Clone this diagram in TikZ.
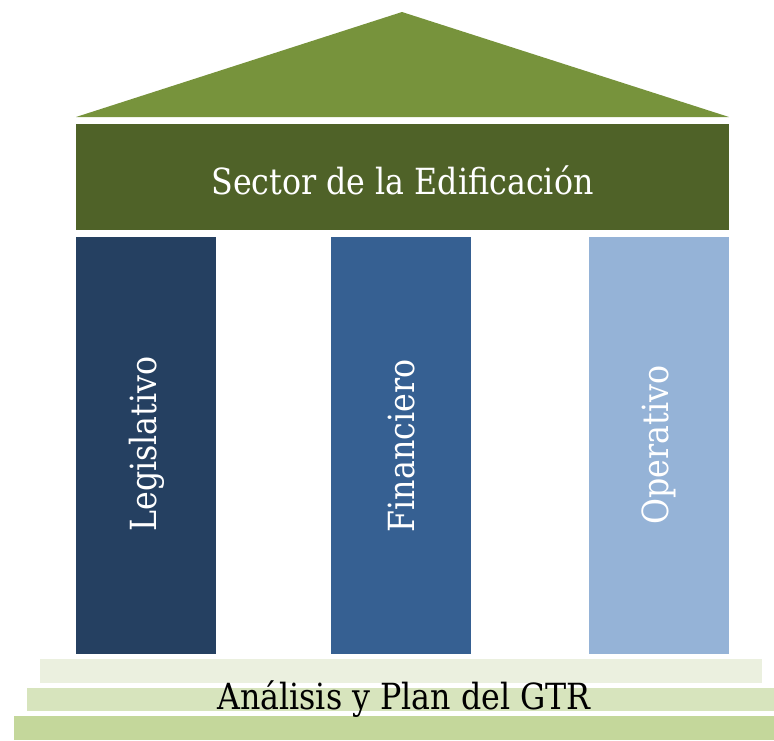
\documentclass[tikz,border=0pt]{standalone}
\usepackage{fontspec}
\setmainfont{DejaVu Serif}[FakeStretch=0.88]
\definecolor{roofc}{HTML}{77933C}
\definecolor{beamc}{HTML}{4F6228}
\definecolor{colA}{HTML}{254061}
\definecolor{colB}{HTML}{366092}
\definecolor{colC}{HTML}{95B3D7}
\definecolor{stepA}{HTML}{EBF0DF}
\definecolor{stepB}{HTML}{D7E4BD}
\definecolor{stepC}{HTML}{C4D79B}
\tikzset{
  block/.style={rectangle, inner sep=0pt, outer sep=0pt, draw=none},
  pillar/.style={block, minimum width=140pt, minimum height=417pt},
  bigtext/.style={font=\fontsize{36}{40}\selectfont, inner sep=0pt},
  plabel/.style={bigtext, text=white, rotate=90},
  stepbox/.style={block, minimum height=24pt},
}
\begin{document}
\begin{tikzpicture}[x=1pt,y=-1pt]
\useasboundingbox (0,0) rectangle (774,740);
% roof
\coordinate (apex) at (402,12);
\coordinate (roofL) at (76,117);
\coordinate (roofR) at (729,117);
\fill[roofc] (roofL) -- (apex) -- (roofR) -- cycle;
% beam
\node[block, fill=beamc, minimum width=653pt, minimum height=106pt] (beam) at (402.5,177) {};
\node[bigtext, text=white] (beamtxt) at (402.5,180) {Sector de la Edificación};
% pillars
\node[pillar, fill=colA] (p1) at (146,445.5) {};
\node[pillar, fill=colB] (p2) at (401,445.5) {};
\node[pillar, fill=colC] (p3) at (659,445.5) {};
\node[plabel] (l1) at (147,444) {Legislativo};
\node[plabel] (l2) at (402,446) {Financiero};
\node[plabel] (l3) at (659,445) {Operativo};
% steps
\node[stepbox, fill=stepA, minimum width=722pt] (s1) at (401,671) {};
\node[stepbox, fill=stepB, minimum width=747pt, minimum height=23pt] (s2) at (400.5,699.5) {};
\node[stepbox, fill=stepC, minimum width=760pt] (s3) at (394,728) {};
\node[bigtext, text=black] (base) at (404,699) {Análisis y Plan del GTR};
\end{tikzpicture}
\end{document}
